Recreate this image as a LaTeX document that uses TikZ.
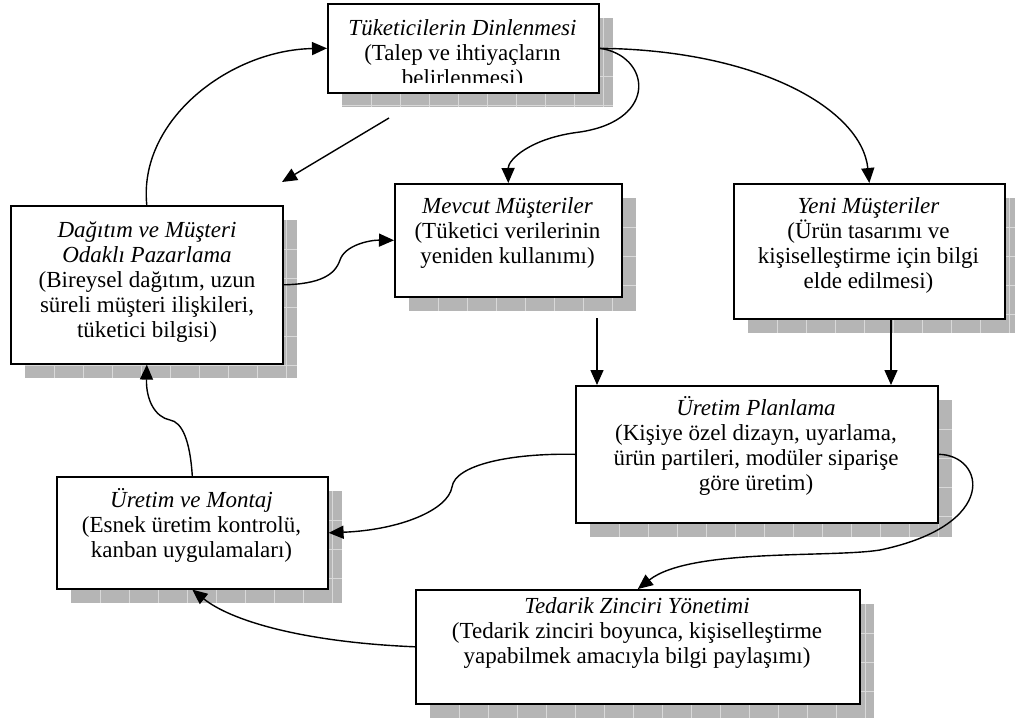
\documentclass[tikz,border=0pt]{standalone}
\usepackage{fontspec}
\setmainfont{Liberation Serif}
\usetikzlibrary{arrows.meta}

\tikzset{
  panel/.style={draw=black, line width=1.6pt, fill=white, inner sep=0pt, anchor=north west},
  shade/.style={fill=black!29},
  gridline/.style={draw=black!15, line width=0.7pt},
  % anchored at the baseline of the last line
  caption/.style={align=center, inner sep=0pt, anchor=base, font=\fontsize{23}{25}\selectfont},
  link/.style={line width=1.4pt, -{Triangle[length=15pt,width=13pt]}},
}

% #1 name, (#2,#3) top left, (#4,#5) bottom right; a gridded grey shadow sits 15 units down-right
\newcommand\panelbox[5]{%
  \fill[shade] (#2+15,#3+15) rectangle (#4+15,#5+15);
  \begin{scope}
    \clip (#2+15,#3+15) rectangle (#4+15,#5+15);
    \foreach \k in {1,...,16}{
      \draw[gridline] (#2+15+29*\k,#3+15) -- (#2+15+29*\k,#5+15);
      \draw[gridline] (#2+15,#3+15+29*\k) -- (#4+15,#3+15+29*\k);
    }
  \end{scope}
  \node[panel, minimum width={(#4-#2)*1pt}, minimum height={(#5-#3)*1pt}] (#1) at (#2,#3) {};
}

\begin{document}
\begin{tikzpicture}[x=1pt,y=-1pt]
\useasboundingbox (0,0) rectangle (1015,721);

% boxes
\panelbox{tk}{327}{3}{598}{92}
\panelbox{dag}{10}{205}{282}{363}
\panelbox{mev}{394}{183}{621}{296}
\panelbox{yeni}{733}{183}{1004}{318}
\panelbox{upl}{575}{385}{937}{522}
\panelbox{um}{56}{476}{327}{588}
\panelbox{ted}{415}{589}{859}{703}

% texts
\begin{scope}
  \clip (327,3) rectangle (598,82);
  \node[caption] (tk-t) at (462.5,85) {\textit{Tüketicilerin Dinlenmesi}\\(Talep ve ihtiyaçların\\belirlenmesi)};
\end{scope}
\node[caption] (dag-t) at (147,337) {\textit{Dağıtım ve Müşteri}\\\textit{Odaklı Pazarlama}\\(Bireysel dağıtım, uzun\\süreli müşteri ilişkileri,\\tüketici bilgisi)};
\node[caption] (mev-t) at (507.5,263) {\textit{Mevcut Müşteriler}\\(Tüketici verilerinin\\yeniden kullanımı)};
\node[caption] (yeni-t) at (868.5,288) {\textit{Yeni Müşteriler}\\(Ürün tasarımı ve\\kişiselleştirme için bilgi\\elde edilmesi)};
\node[caption] (upl-t) at (756,490) {\textit{Üretim Planlama}\\(Kişiye özel dizayn, uyarlama,\\ürün partileri, modüler siparişe\\göre üretim)};
\node[caption] (um-t) at (191.5,557) {\textit{Üretim ve Montaj}\\(Esnek üretim kontrolü,\\kanban uygulamaları)};
\node[caption] (ted-t) at (637,663) {\textit{Tedarik Zinciri Yönetimi}\\(Tedarik zinciri boyunca, kişiselleştirme\\yapabilmek amacıyla bilgi paylaşımı)};

% loose ends
\coordinate (free-a) at (389,118);
\coordinate (free-b) at (282,182);
\coordinate (mev-out) at (597,318);
\coordinate (upl-in1) at ([xshift=22pt]upl.north west);
\coordinate (yeni-out) at ([xshift=158pt]yeni.south west);
\coordinate (upl-in2) at ([xshift=316pt]upl.north west);

% connectors
\draw[link] (dag.north) .. controls (138,120) and (230,50) .. (tk.west);
\draw[link] (free-a) -- (free-b);
\draw[link] (tk.east) .. controls (650,55) and (660,120) .. (580,132)
                      .. controls (530,138) and (508,160) .. (mev.north);
\draw[link] (tk.east) .. controls (760,50) and (862,110) .. (yeni.north);
\draw[link] (dag.east) .. controls (320,284) and (335,275) .. (340,260)
                       .. controls (345,245) and (370,240) .. (mev.west);
\draw[link] (mev-out) -- (upl-in1);
\draw[link] (yeni-out) -- (upl-in2);
\draw[link] (upl.west) .. controls (510,453) and (455,465) .. (452,487)
                       .. controls (448,510) and (400,530) .. (um.east);
\draw[link] (upl.east) .. controls (985,455) and (1000,525) .. (880,550)
                       .. controls (830,558) and (690,548) .. (ted.north);
\draw[link] (ted.west) .. controls (300,642) and (230,620) .. (um.south);
\draw[link] (um.north) .. controls (190,440) and (182,422) .. (170,420)
                       .. controls (155,417) and (146,400) .. (dag.south);
\end{tikzpicture}
\end{document}
